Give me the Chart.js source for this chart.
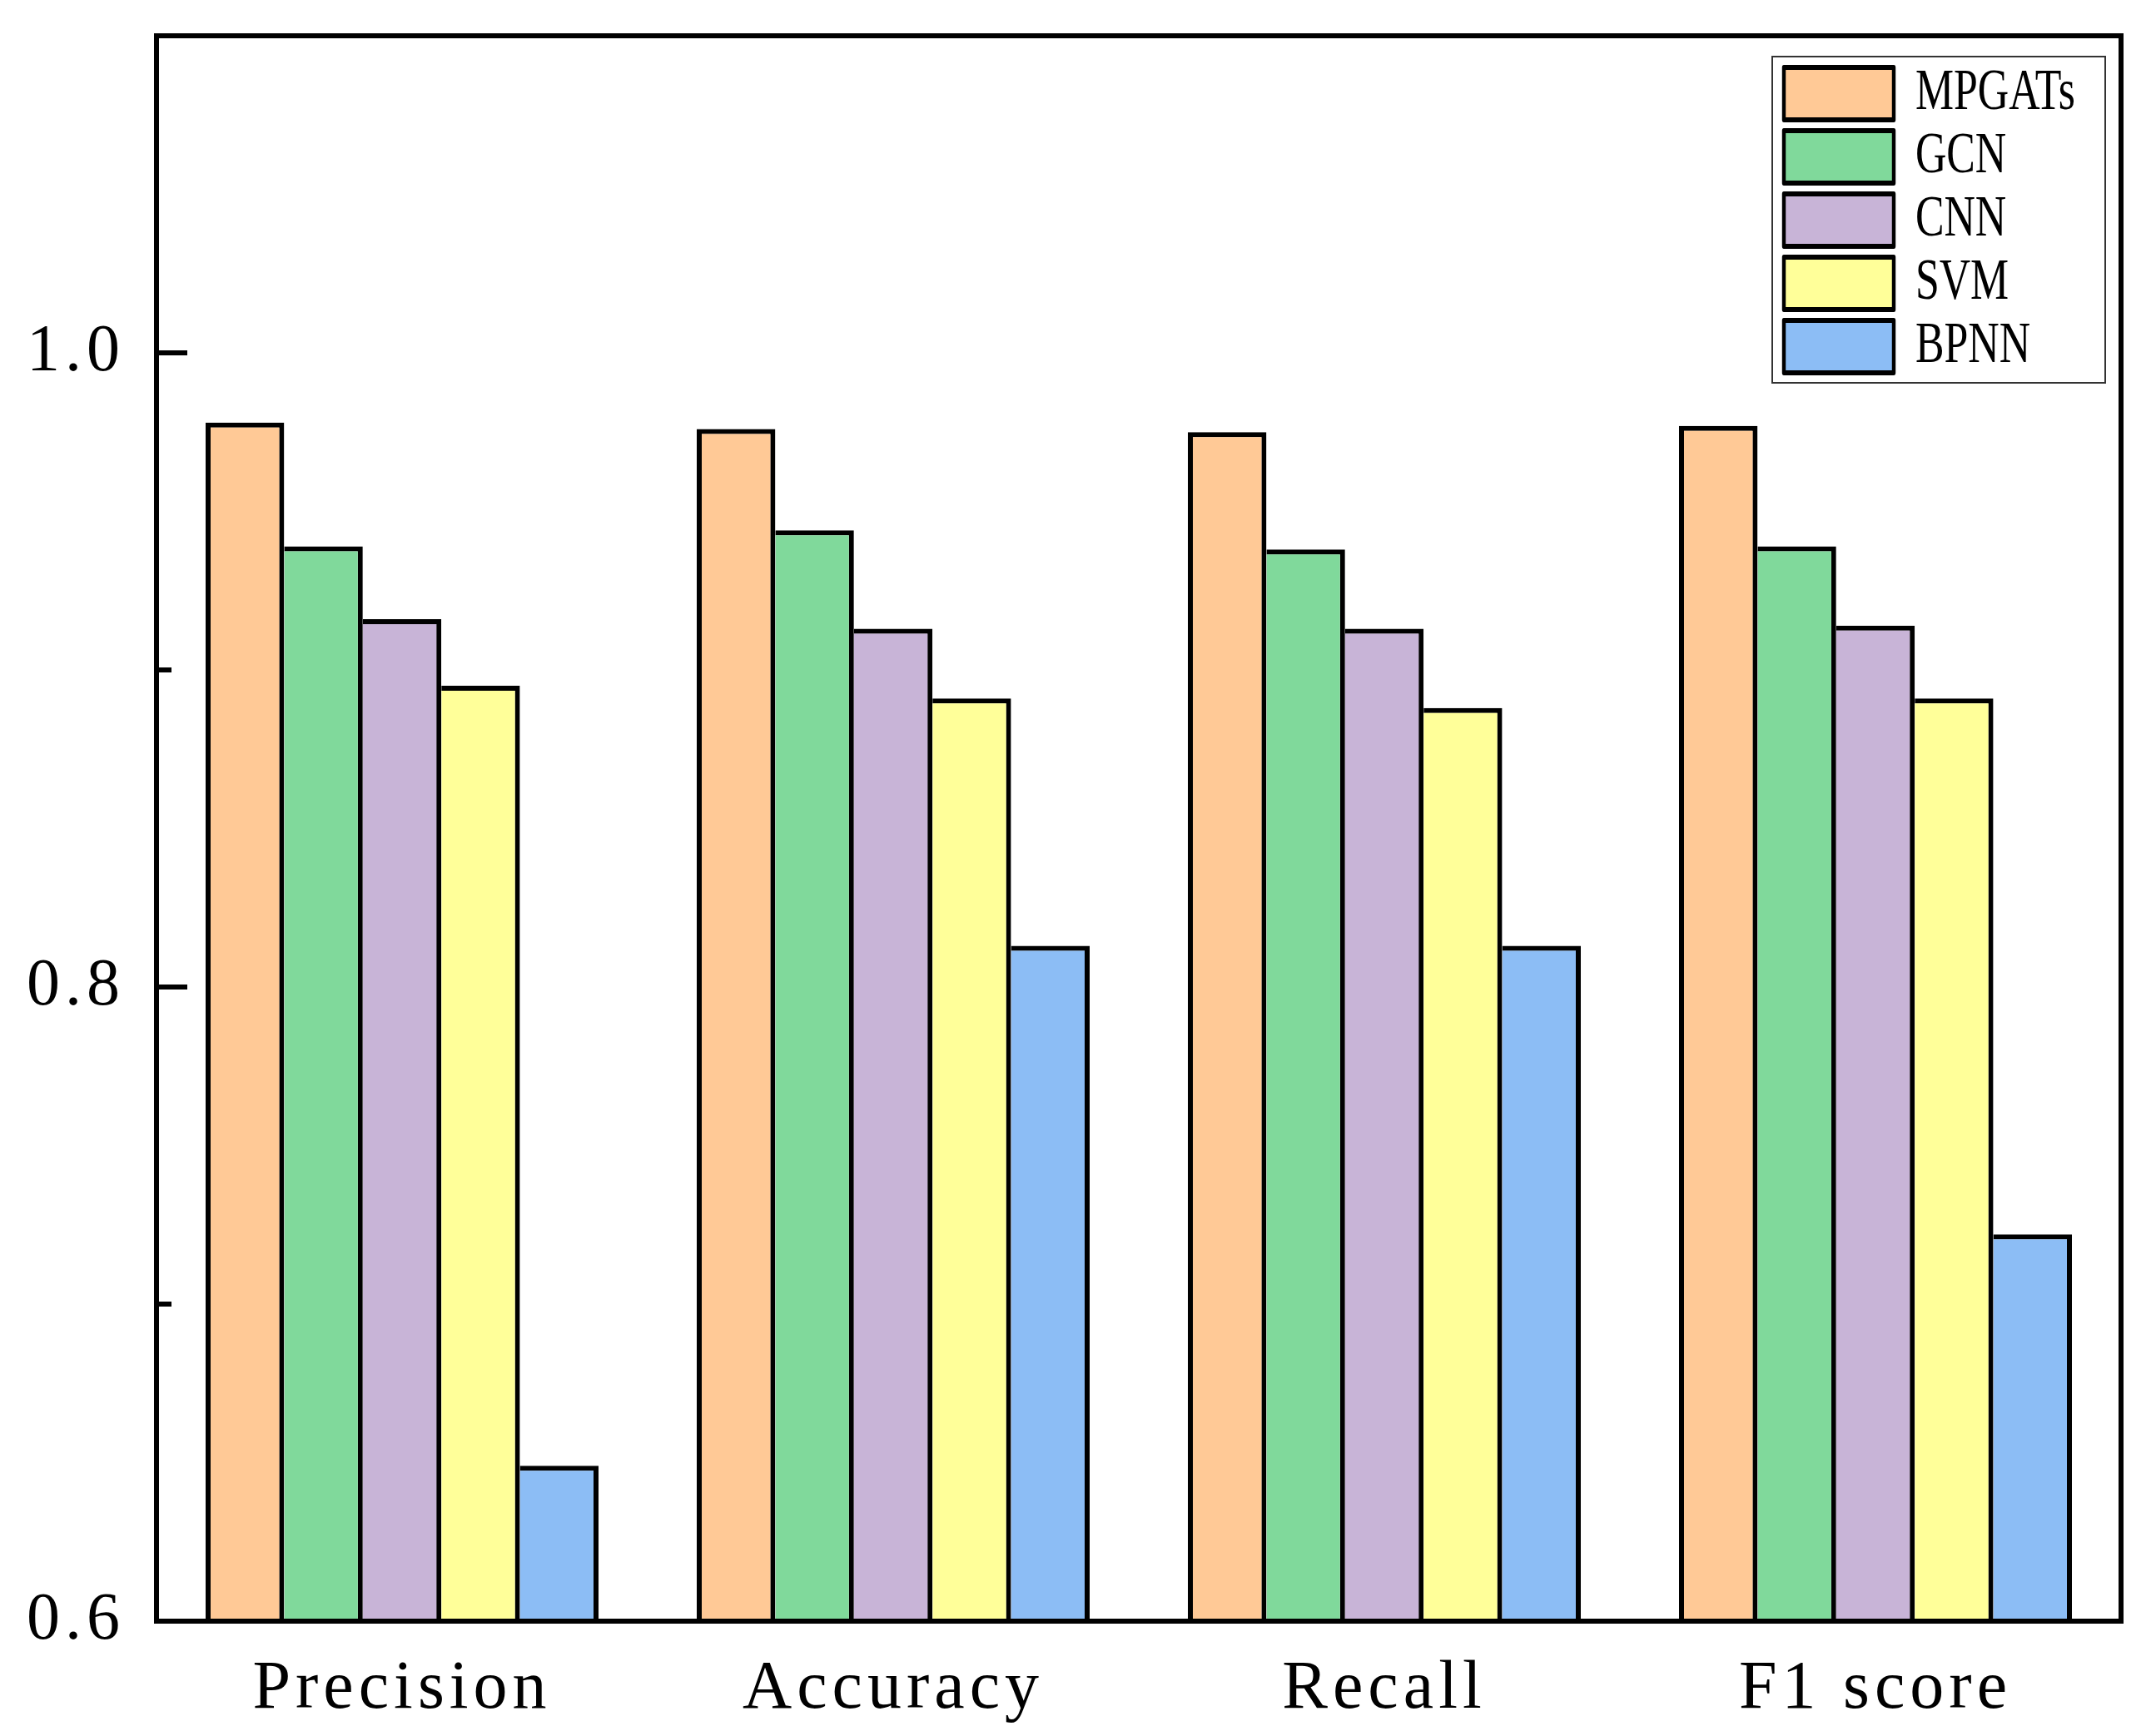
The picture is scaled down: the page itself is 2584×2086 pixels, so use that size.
<!DOCTYPE html>
<html>
<head>
<meta charset="utf-8">
<script src="https://cdn.jsdelivr.net/npm/chart.js@4.4.1/dist/chart.umd.min.js"></script>
<style>
html, body { margin: 0; padding: 0; background: #ffffff; }
canvas { display: block; }
</style>
</head>
<body>
<canvas id="c" width="2584" height="2086"></canvas>
<script>
// ---- data ----
const categories = ['Precision', 'Accuracy', 'Recall', 'F1 score'];
const seriesNames = ['MPGATs', 'GCN', 'CNN', 'SVM', 'BPNN'];
const mpgatsValues = [0.978, 0.976, 0.975, 0.977];
const gcnValues    = [0.939, 0.944, 0.938, 0.939];
const cnnValues    = [0.916, 0.913, 0.913, 0.914];
const svmValues    = [0.895, 0.891, 0.888, 0.891];
const bpnnValues   = [0.649, 0.813, 0.813, 0.722];
const yMajorTicks = [0.6, 0.8, 1.0];
const yMinorTicks = [0.7, 0.9];
const yMin = 0.6;
const yMax = 1.1;

// ---- styles ----
const seriesColors = ['#FFC996', '#80D99B', '#C8B4D7', '#FFFF99', '#8CBDF5'];
const seriesValues = [mpgatsValues, gcnValues, cnnValues, svmValues, bpnnValues];
const FONT = "'Liberation Serif', 'Times New Roman', serif";
const LEGEND_SQUEEZE = 0.74;   // horizontal condensing of legend (narrow font look)

const datasets = seriesNames.map((name, i) => ({
  label: name,
  data: seriesValues[i],
  backgroundColor: seriesColors[i],
  borderColor: '#000000',
  borderWidth: i === 0 ? {top: 6, left: 6, right: 6, bottom: 0} : {top: 6, left: 0, right: 6, bottom: 0},
  categoryPercentage: 0.8,
  barPercentage: 1.0
}));

function zeroPadding(s) {
  s.paddingTop = 0; s.paddingBottom = 0; s.paddingLeft = 0; s.paddingRight = 0;
}

const framePlugin = {
  id: 'framePlugin',
  afterLayout(chart) {
    const lg = chart.legend;
    const ca = chart.chartArea;
    if (!lg) return;
    lg.left = ca.right - 405 - 6 * LEGEND_SQUEEZE;
    lg.top = ca.top + 28.5;
    lg.right = lg.left + 400 / LEGEND_SQUEEZE;
    lg.bottom = lg.top + 420;
    if (!lg._lsWrapped) {
      const orig = lg.draw;
      lg.draw = function (a) {
        const c = this.ctx;
        const x0 = this.left;
        c.save();
        c.letterSpacing = '0px';
        c.translate(x0, 0);
        c.scale(LEGEND_SQUEEZE, 1);
        c.translate(-x0, 0);
        orig.call(this, a);
        c.restore();
      };
      lg._lsWrapped = true;
    }
  },
  beforeDraw(chart) {
    chart.ctx.letterSpacing = '6px';
  },
  afterDatasetsDraw(chart) {
    const ctx = chart.ctx;
    const ca = chart.chartArea;
    const y = chart.scales.y;
    ctx.save();
    ctx.letterSpacing = '0px';
    ctx.strokeStyle = '#000000';
    ctx.lineWidth = 6;
    ctx.lineJoin = 'miter';
    ctx.strokeRect(ca.left, ca.top, ca.right - ca.left, ca.bottom - ca.top);
    ctx.beginPath();
    yMajorTicks.forEach(v => {
      const p = y.getPixelForValue(v);
      ctx.moveTo(ca.left, p);
      ctx.lineTo(ca.left + 37, p);
    });
    yMinorTicks.forEach(v => {
      const p = y.getPixelForValue(v);
      ctx.moveTo(ca.left, p);
      ctx.lineTo(ca.left + 18, p);
    });
    ctx.stroke();
    if (chart.legend) {
      ctx.lineWidth = 2;
      ctx.strokeStyle = '#333333';
      ctx.strokeRect(ca.right - 419, ca.top + 25, 400, 392);
    }
    ctx.restore();
  },
  afterDraw(chart) {
    chart.ctx.letterSpacing = '0px';
  }
};

new Chart(document.getElementById('c'), {
  type: 'bar',
  data: { labels: categories, datasets: datasets },
  options: {
    responsive: false,
    animation: false,
    devicePixelRatio: 1,
    layout: { autoPadding: false, padding: { top: 43, right: 36, left: 0, bottom: 0 } },
    plugins: {
      tooltip: { enabled: false },
      title: { display: false },
      legend: {
        display: true,
        position: 'chartArea',
        align: 'start',
        labels: {
          boxWidth: 132 / LEGEND_SQUEEZE,
          boxHeight: 63,
          padding: 6,
          color: '#000000',
          font: { family: FONT, size: 70 },
          generateLabels(chart) {
            return Chart.defaults.plugins.legend.labels.generateLabels(chart).map(it =>
              Object.assign(it, { lineWidth: 6, strokeStyle: '#000000', lineJoin: 'round' }));
          }
        }
      }
    },
    scales: {
      x: {
        grid: { display: false, drawTicks: false },
        border: { display: false },
        ticks: {
          color: '#000000',
          font: { family: FONT, size: 82 },
          padding: 33,
          maxRotation: 0,
          autoSkip: false
        },
        afterFit(s) { s.height = 138; zeroPadding(s); }
      },
      y: {
        min: yMin,
        max: yMax,
        grid: { display: false, drawTicks: false },
        border: { display: false },
        afterBuildTicks(s) { s.ticks = yMajorTicks.map(v => ({ value: v })); },
        ticks: {
          color: '#000000',
          font: { family: FONT, size: 80 },
          padding: 38,
          callback: (v) => Number(v).toFixed(1)
        },
        afterFit(s) { s.width = 188; zeroPadding(s); }
      }
    }
  },
  plugins: [framePlugin]
});
</script>
</body>
</html>
